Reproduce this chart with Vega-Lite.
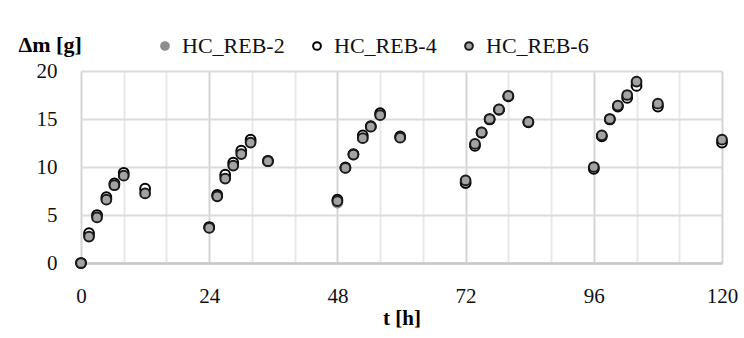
{
  "$schema": "https://vega.github.io/schema/vega-lite/v6.json",
  "width": 641,
  "height": 192,
  "autosize": {"type": "none"},
  "padding": {"left": 81, "top": 71, "right": 22, "bottom": 75},
  "background": "white",
  "config": {
    "font": "Liberation Serif",
    "view": {"stroke": null}
  },
  "data": {
    "values": [
      {"t": 0, "s": "HC_REB-2", "m": 0}, {"t": 1.5, "s": "HC_REB-2", "m": 2.9}, {"t": 3, "s": "HC_REB-2", "m": 4.9}, {"t": 4.75, "s": "HC_REB-2", "m": 6.7}, {"t": 6.25, "s": "HC_REB-2", "m": 8.2}, {"t": 8, "s": "HC_REB-2", "m": 9.2}, {"t": 12, "s": "HC_REB-2", "m": 7.5},
      {"t": 24, "s": "HC_REB-2", "m": 3.7}, {"t": 25.5, "s": "HC_REB-2", "m": 7.0}, {"t": 27, "s": "HC_REB-2", "m": 9.0}, {"t": 28.5, "s": "HC_REB-2", "m": 10.3}, {"t": 30, "s": "HC_REB-2", "m": 11.5}, {"t": 31.75, "s": "HC_REB-2", "m": 12.7}, {"t": 35, "s": "HC_REB-2", "m": 10.6},
      {"t": 48, "s": "HC_REB-2", "m": 6.3}, {"t": 49.5, "s": "HC_REB-2", "m": 9.9}, {"t": 51, "s": "HC_REB-2", "m": 11.3}, {"t": 52.75, "s": "HC_REB-2", "m": 13.1}, {"t": 54.25, "s": "HC_REB-2", "m": 14.2}, {"t": 56, "s": "HC_REB-2", "m": 15.5}, {"t": 59.75, "s": "HC_REB-2", "m": 13.1},
      {"t": 72, "s": "HC_REB-2", "m": 8.3}, {"t": 73.75, "s": "HC_REB-2", "m": 12.3}, {"t": 75, "s": "HC_REB-2", "m": 13.6}, {"t": 76.5, "s": "HC_REB-2", "m": 15.0}, {"t": 78.25, "s": "HC_REB-2", "m": 16.0}, {"t": 80, "s": "HC_REB-2", "m": 17.4}, {"t": 83.75, "s": "HC_REB-2", "m": 14.7},
      {"t": 96, "s": "HC_REB-2", "m": 9.9}, {"t": 97.5, "s": "HC_REB-2", "m": 13.25}, {"t": 99, "s": "HC_REB-2", "m": 15.0}, {"t": 100.5, "s": "HC_REB-2", "m": 16.35}, {"t": 102.25, "s": "HC_REB-2", "m": 17.35}, {"t": 104, "s": "HC_REB-2", "m": 18.7}, {"t": 108, "s": "HC_REB-2", "m": 16.45},
      {"t": 120, "s": "HC_REB-2", "m": 12.7},
      {"t": 0, "s": "HC_REB-4", "m": 0}, {"t": 1.5, "s": "HC_REB-4", "m": 3.1}, {"t": 3, "s": "HC_REB-4", "m": 5.0}, {"t": 4.75, "s": "HC_REB-4", "m": 6.85}, {"t": 6.25, "s": "HC_REB-4", "m": 8.3}, {"t": 8, "s": "HC_REB-4", "m": 9.4}, {"t": 12, "s": "HC_REB-4", "m": 7.75},
      {"t": 24, "s": "HC_REB-4", "m": 3.75}, {"t": 25.5, "s": "HC_REB-4", "m": 7.1}, {"t": 27, "s": "HC_REB-4", "m": 9.2}, {"t": 28.5, "s": "HC_REB-4", "m": 10.45}, {"t": 30, "s": "HC_REB-4", "m": 11.7}, {"t": 31.75, "s": "HC_REB-4", "m": 12.85}, {"t": 35, "s": "HC_REB-4", "m": 10.65},
      {"t": 48, "s": "HC_REB-4", "m": 6.6}, {"t": 49.5, "s": "HC_REB-4", "m": 9.95}, {"t": 51, "s": "HC_REB-4", "m": 11.35}, {"t": 52.75, "s": "HC_REB-4", "m": 13.3}, {"t": 54.25, "s": "HC_REB-4", "m": 14.25}, {"t": 56, "s": "HC_REB-4", "m": 15.6}, {"t": 59.75, "s": "HC_REB-4", "m": 13.2},
      {"t": 72, "s": "HC_REB-4", "m": 8.35}, {"t": 73.75, "s": "HC_REB-4", "m": 12.2}, {"t": 75, "s": "HC_REB-4", "m": 13.55}, {"t": 76.5, "s": "HC_REB-4", "m": 14.95}, {"t": 78.25, "s": "HC_REB-4", "m": 15.95}, {"t": 80, "s": "HC_REB-4", "m": 17.35}, {"t": 83.75, "s": "HC_REB-4", "m": 14.65},
      {"t": 96, "s": "HC_REB-4", "m": 9.8}, {"t": 97.5, "s": "HC_REB-4", "m": 13.2}, {"t": 99, "s": "HC_REB-4", "m": 14.95}, {"t": 100.5, "s": "HC_REB-4", "m": 16.3}, {"t": 102.25, "s": "HC_REB-4", "m": 17.2}, {"t": 104, "s": "HC_REB-4", "m": 18.45}, {"t": 108, "s": "HC_REB-4", "m": 16.3},
      {"t": 120, "s": "HC_REB-4", "m": 12.55},
      {"t": 0, "s": "HC_REB-6", "m": 0}, {"t": 1.5, "s": "HC_REB-6", "m": 2.75}, {"t": 3, "s": "HC_REB-6", "m": 4.75}, {"t": 4.75, "s": "HC_REB-6", "m": 6.6}, {"t": 6.25, "s": "HC_REB-6", "m": 8.1}, {"t": 8, "s": "HC_REB-6", "m": 9.1}, {"t": 12, "s": "HC_REB-6", "m": 7.25},
      {"t": 24, "s": "HC_REB-6", "m": 3.65}, {"t": 25.5, "s": "HC_REB-6", "m": 6.95}, {"t": 27, "s": "HC_REB-6", "m": 8.8}, {"t": 28.5, "s": "HC_REB-6", "m": 10.15}, {"t": 30, "s": "HC_REB-6", "m": 11.35}, {"t": 31.75, "s": "HC_REB-6", "m": 12.55}, {"t": 35, "s": "HC_REB-6", "m": 10.6},
      {"t": 48, "s": "HC_REB-6", "m": 6.45}, {"t": 49.5, "s": "HC_REB-6", "m": 9.9}, {"t": 51, "s": "HC_REB-6", "m": 11.3}, {"t": 52.75, "s": "HC_REB-6", "m": 13.0}, {"t": 54.25, "s": "HC_REB-6", "m": 14.2}, {"t": 56, "s": "HC_REB-6", "m": 15.4}, {"t": 59.75, "s": "HC_REB-6", "m": 13.05},
      {"t": 72, "s": "HC_REB-6", "m": 8.6}, {"t": 73.75, "s": "HC_REB-6", "m": 12.4}, {"t": 75, "s": "HC_REB-6", "m": 13.6}, {"t": 76.5, "s": "HC_REB-6", "m": 15.0}, {"t": 78.25, "s": "HC_REB-6", "m": 16.0}, {"t": 80, "s": "HC_REB-6", "m": 17.4}, {"t": 83.75, "s": "HC_REB-6", "m": 14.7},
      {"t": 96, "s": "HC_REB-6", "m": 10.0}, {"t": 97.5, "s": "HC_REB-6", "m": 13.3}, {"t": 99, "s": "HC_REB-6", "m": 15.0}, {"t": 100.5, "s": "HC_REB-6", "m": 16.4}, {"t": 102.25, "s": "HC_REB-6", "m": 17.5}, {"t": 104, "s": "HC_REB-6", "m": 18.9}, {"t": 108, "s": "HC_REB-6", "m": 16.6},
      {"t": 120, "s": "HC_REB-6", "m": 12.85}
    ]
  },
  "mark": {"type": "point", "filled": false, "shape": "circle", "size": 95, "strokeWidth": 2, "opacity": 1, "clip": false},
  "encoding": {
    "x": {
      "field": "t", "type": "quantitative",
      "scale": {"domain": [0, 120], "nice": false, "zero": true},
      "axis": {
        "values": [0, 8, 16, 24, 32, 40, 48, 56, 64, 72, 80, 88, 96, 104, 112, 120],
        "labelExpr": "datum.value % 24 === 0 ? datum.label : ''",
        "title": "t [h]",
        "titleFontSize": 21, "titleFontWeight": "bold", "titleColor": "#000", "titlePadding": 1,
        "labelFontSize": 21, "labelColor": "#111", "labelPadding": 22,
        "ticks": false, "domainColor": "#c8c8c8", "domainWidth": 2.5,
        "gridColor": {"condition": {"test": "datum.value % 24 === 0", "value": "#d4d4d4"}, "value": "#e8e8e8"},
        "gridWidth": 2, "labelFlush": false
      }
    },
    "y": {
      "field": "m", "type": "quantitative",
      "scale": {"domain": [0, 20], "nice": false},
      "axis": {
        "values": [0, 5, 10, 15, 20],
        "title": "Δm [g]",
        "titleAngle": 0, "titleAlign": "left", "titleBaseline": "middle",
        "titleX": -63, "titleY": -27,
        "titleFontSize": 22, "titleFontWeight": "bold", "titleColor": "#000",
        "labelFontSize": 21, "labelColor": "#111", "labelPadding": 24,
        "ticks": false, "domain": false,
        "gridColor": "#dcdcdc", "gridWidth": 2
      }
    },
    "fill": {
      "field": "s", "type": "nominal",
      "scale": {"domain": ["HC_REB-2", "HC_REB-4", "HC_REB-6"], "range": ["#8e8e8e", "#ffffff", "#a3a3a3"]},
      "legend": {
        "title": null, "orient": "none", "direction": "horizontal",
        "legendX": 73, "legendY": -36,
        "labelFontSize": 22, "labelColor": "#111", "symbolSize": 60, "symbolStrokeWidth": 2,
        "columnPadding": 21, "labelOffset": 6
      }
    },
    "stroke": {
      "field": "s", "type": "nominal",
      "scale": {"domain": ["HC_REB-2", "HC_REB-4", "HC_REB-6"], "range": ["#8e8e8e", "#000000", "#1a1a1a"]}
    },
    "order": {"field": "s", "type": "nominal"}
  }
}
